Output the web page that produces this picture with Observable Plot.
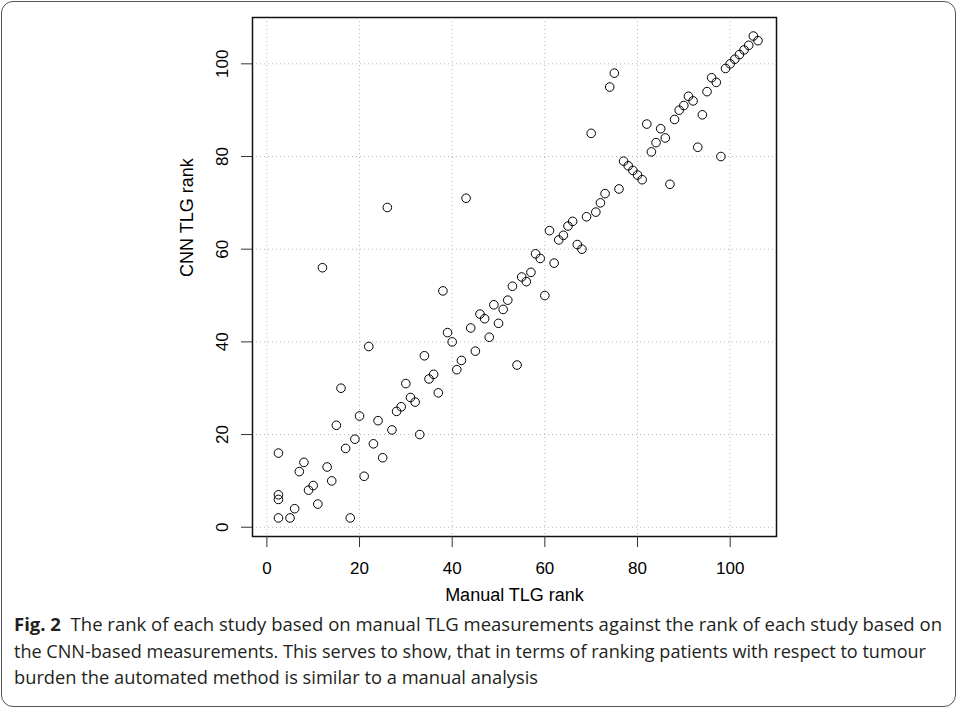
<!DOCTYPE html>
<html><head><meta charset="utf-8">
<script src="https://cdn.jsdelivr.net/npm/d3@7"></script>
<script src="https://cdn.jsdelivr.net/npm/@observablehq/plot@0.6"></script>
<style>
body{margin:0;background:#fff;}
#wrap{position:relative;width:958px;height:709px;overflow:hidden;background:#fff;}
#card{position:absolute;left:1px;top:1px;width:955px;height:706px;border:1.3px solid #555;border-radius:12px;box-sizing:border-box;}
#chart{position:absolute;left:0;top:0;}
#caption{position:absolute;left:14px;top:611px;font-family:"Open Sans";font-size:17.5px;color:#231f20;}
.line{white-space:nowrap;height:26.5px;line-height:26.5px;transform-origin:0 50%;display:inline-block;}
</style></head>
<body>
<div id="wrap">
<div id="card"></div>
<div id="chart"></div>
<div id="caption">
<div class="line" data-w="928"><b>Fig. 2</b>&nbsp; The rank of each study based on manual TLG measurements against the rank of each study based on</div><br>
<div class="line" data-w="912">the CNN-based measurements. This serves to show, that in terms of ranking patients with respect to tumour</div><br>
<div class="line" data-w="524">burden the automated method is similar to a manual analysis</div>
</div>
</div>
<script>
const manualRank = [2.5,2.5,2.5,2.5,5,6,7,8,9,10,
  11,12,13,14,15,16,17,18,19,20,
  21,22,23,24,25,26,27,28,29,30,
  31,32,33,34,35,36,37,38,39,40,
  41,42,43,44,45,46,47,48,49,50,
  51,52,53,54,55,56,57,58,59,60,
  61,62,63,64,65,66,67,68,69,70,
  71,72,73,74,75,76,77,78,79,80,
  81,82,83,84,85,86,87,88,89,90,
  91,92,93,94,95,96,97,98,99,100,
  101,102,103,104,105,106];
const cnnRank = [16,7,6,2,2,4,12,14,8,9,
  5,56,13,10,22,30,17,2,19,24,
  11,39,18,23,15,69,21,25,26,31,
  28,27,20,37,32,33,29,51,42,40,
  34,36,71,43,38,46,45,41,48,44,
  47,49,52,35,54,53,55,59,58,50,
  64,57,62,63,65,66,61,60,67,85,
  68,70,72,95,98,73,79,78,77,76,
  75,87,81,83,86,84,74,88,90,91,
  93,92,82,89,94,97,96,80,99,100,
  101,102,103,104,106,105];
const xTicks = [0,20,40,60,80,100];
const yTicks = [0,20,40,60,80,100];
const xLabel = "Manual TLG rank";
const yLabel = "CNN TLG rank";

const data = manualRank.map((m,i) => ({m, c: cnnRank[i]}));

const chart = Plot.plot({
  width: 958, height: 620,
  marginLeft: 252, marginRight: 182, marginTop: 17, marginBottom: 84,
  style: {fontFamily: "Liberation Sans", fontSize: "17px", background: "transparent", color: "#000"},
  x: {domain: [-3.1, 110], label: null},
  y: {domain: [-2.0, 110], label: null},
  marks: [
    Plot.ruleX(xTicks, {stroke: "#b8b8b8", strokeDasharray: "1,3"}),
    Plot.ruleY(yTicks, {stroke: "#b8b8b8", strokeDasharray: "1,3"}),
    Plot.dot(data, {x: "m", y: "c", r: 4.3, stroke: "black", strokeWidth: 1, fill: "none"}),
    Plot.frame({stroke: "#111", strokeWidth: 1.5}),
    Plot.axisX(xTicks, {tickSize: 11, tickPadding: 14, fontSize: 17, label: null, stroke: "#333"}),
    Plot.axisY(yTicks, {tickSize: 11, tickPadding: 14, tickRotate: -90, fontSize: 17, label: null, stroke: "#333"}),
    Plot.text([xLabel], {frameAnchor: "bottom", dy: 64, fontSize: 18}),
    Plot.text([yLabel], {frameAnchor: "left", dx: -65, rotate: -90, fontSize: 18})
  ]
});
document.getElementById("chart").appendChild(chart);

document.querySelectorAll(".line").forEach(el => {
  const w = el.getBoundingClientRect().width;
  const t = +el.dataset.w;
  el.style.transform = `scaleX(${t / w})`;
});
</script>
</body></html>
